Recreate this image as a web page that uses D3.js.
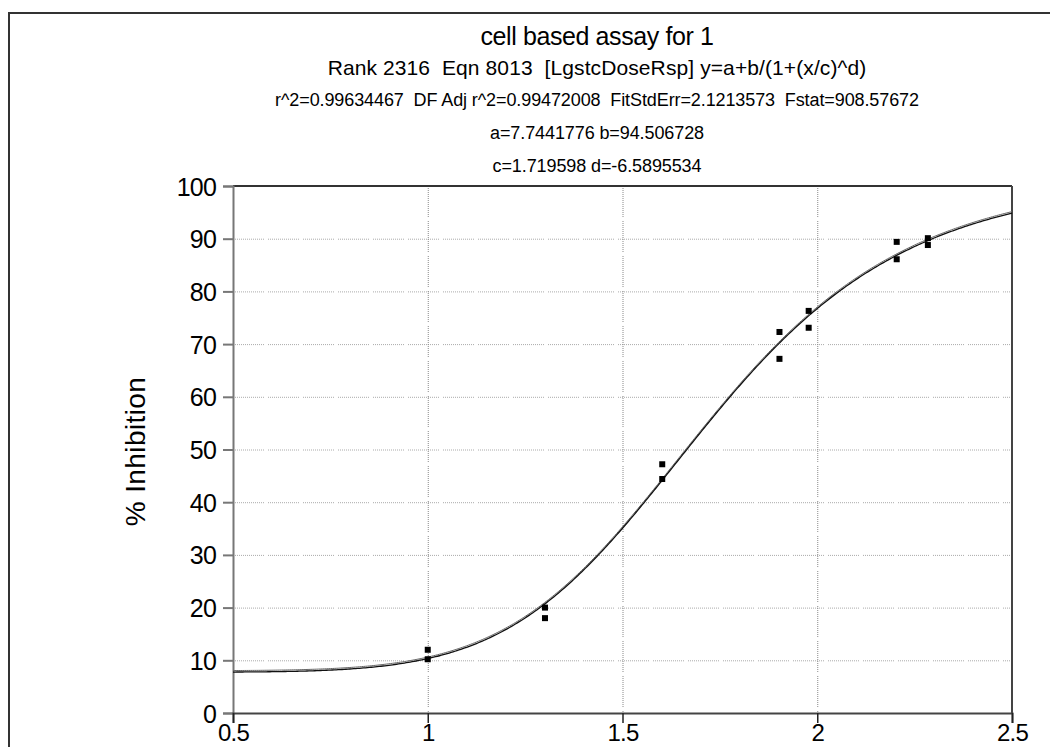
<!DOCTYPE html>
<html>
<head>
<meta charset="utf-8">
<script src="https://cdn.jsdelivr.net/npm/d3@7"></script>
<style>
  html, body { margin: 0; padding: 0; background: #fff; }
  svg { display: block; }
  text { font-family: "Liberation Sans", Arial, sans-serif; fill: #000; white-space: pre; }
</style>
</head>
<body>
<svg id="chart" width="1050" height="747"></svg>
<script>
// Header lines
const titleLines = [
  "cell based assay for 1",
  "Rank 2316  Eqn 8013  [LgstcDoseRsp] y=a+b/(1+(x/c)^d)",
  "r^2=0.99634467  DF Adj r^2=0.99472008  FitStdErr=2.1213573  Fstat=908.57672",
  "a=7.7441776 b=94.506728",
  "c=1.719598 d=-6.5895534"
];

// Fitted parameters of y = a + b / (1 + (x/c)^d)
const fitParams = { a: 7.7441776, b: 94.506728, c: 1.719598, d: -6.5895534 };

// Measured points
const doseX = [1.0, 1.0, 1.301, 1.301, 1.602, 1.602, 1.903, 1.903, 1.978, 1.978, 2.204, 2.204, 2.284, 2.284];
const inhibitionY = [12.0, 10.2, 20.0, 18.0, 47.2, 44.4, 72.3, 67.2, 76.3, 73.1, 89.4, 86.1, 90.1, 88.8];

// Axis ticks
const xTicks = [0.5, 1, 1.5, 2, 2.5];
const yTicks = [0, 10, 20, 30, 40, 50, 60, 70, 80, 90, 100];
const yLabel = "% Inhibition";

const svg = d3.select("#chart");
const plot = { left: 233, right: 1012, top: 186, bottom: 713 };

const x = d3.scaleLinear().domain([0.5, 2.5]).range([plot.left, plot.right]);
const y = d3.scaleLinear().domain([0, 100]).range([plot.bottom, plot.top]);

// Outer frame (top and left edges)
svg.append("path")
  .attr("d", "M9,747 V13 H1050")
  .attr("fill", "none")
  .attr("stroke", "#333")
  .attr("stroke-width", 2);

// Title block
const titleY = [45, 75, 106, 139, 172];
const titleSize = [25, 21, 18, 18, 18];
const titleSpacing = [-0.4, 0.1, -0.1, -0.1, -0.1];
svg.append("g").selectAll("text")
  .data(titleLines)
  .join("text")
  .attr("x", 597)
  .attr("y", (d, i) => titleY[i])
  .attr("text-anchor", "middle")
  .style("font-size", (d, i) => titleSize[i] + "px")
  .style("letter-spacing", (d, i) => titleSpacing[i] + "px")
  .text(d => d);

// Dotted grid pattern: fine dots broken into short runs
const dotRun = d3.range(16).flatMap(() => [1, 1]);
dotRun[dotRun.length - 1] = 4;
const gridDash = dotRun.join(",");

const grid = svg.append("g");
grid.selectAll("line.h")
  .data(yTicks.filter(v => v > 0 && v < 100))
  .join("line")
  .attr("class", "h")
  .attr("x1", plot.left).attr("x2", plot.right)
  .attr("y1", d => y(d) + 0.5).attr("y2", d => y(d) + 0.5)
  .attr("stroke", "#aaa")
  .attr("stroke-width", 1)
  .attr("stroke-dasharray", gridDash);
grid.selectAll("line.v")
  .data(xTicks.filter(v => v > 0.5 && v < 2.5))
  .join("line")
  .attr("class", "v")
  .attr("x1", d => x(d) + 0.5).attr("x2", d => x(d) + 0.5)
  .attr("y1", plot.top).attr("y2", plot.bottom)
  .attr("stroke", "#888")
  .attr("stroke-width", 1)
  .attr("stroke-dasharray", gridDash);

// Plot border
svg.append("line").attr("x1", plot.left).attr("x2", plot.right)
  .attr("y1", plot.top).attr("y2", plot.top).attr("stroke", "#333").attr("stroke-width", 2);
svg.append("line").attr("x1", plot.right).attr("x2", plot.right)
  .attr("y1", plot.top).attr("y2", plot.bottom).attr("stroke", "#444").attr("stroke-width", 2);

// Y axis
const yAxis = svg.append("g")
  .attr("transform", `translate(${plot.left},0)`)
  .call(d3.axisLeft(y).tickValues(yTicks).tickSize(10).tickPadding(7).tickFormat(d3.format("d")));
yAxis.select(".domain").attr("stroke", "#777").attr("stroke-width", 2);
yAxis.selectAll(".tick line").attr("stroke", "#777").attr("stroke-width", 2);
yAxis.selectAll(".tick text")
  .style("font-size", "25px")
  .style("letter-spacing", "-0.8px")
  .attr("font-family", null)
  .attr("dy", "0.36em");

// X axis
const xAxis = svg.append("g")
  .attr("transform", `translate(0,${plot.bottom})`)
  .call(d3.axisBottom(x).tickValues(xTicks).tickSize(10).tickPadding(0).tickFormat(d3.format("")));
xAxis.select(".domain").attr("stroke", "#444").attr("stroke-width", 2);
xAxis.selectAll(".tick line").attr("stroke", "#222").attr("stroke-width", 1.5);
xAxis.selectAll(".tick text")
  .style("font-size", "24px")
  .style("letter-spacing", "-0.8px")
  .attr("font-family", null)
  .attr("y", 28)
  .attr("dy", null);

// Y axis title
svg.append("text")
  .attr("transform", `translate(145,${(plot.top + plot.bottom) / 2 + 2}) rotate(-90)`)
  .attr("text-anchor", "middle")
  .style("font-size", "28px")
  .style("letter-spacing", "0.4px")
  .text(yLabel);

// Fitted curve
const fit = v => fitParams.a + fitParams.b / (1 + Math.pow(v / fitParams.c, fitParams.d));
const curveX = d3.range(0.5, 2.5001, 0.005);
const line = d3.line().x(v => x(v)).y(v => y(fit(v)));
svg.append("path")
  .datum(curveX)
  .attr("d", line)
  .attr("fill", "none")
  .attr("stroke", "#666")
  .attr("stroke-width", 1)
  .attr("transform", "translate(0,-1.5)");
svg.append("path")
  .datum(curveX)
  .attr("d", line)
  .attr("fill", "none")
  .attr("stroke", "#111")
  .attr("stroke-width", 1.3);

// Measured points
const pts = doseX.map((v, i) => ({ x: v, y: inhibitionY[i] }));
svg.append("g").selectAll("rect")
  .data(pts)
  .join("rect")
  .attr("x", d => x(d.x) - 3)
  .attr("y", d => y(d.y) - 3)
  .attr("width", 6)
  .attr("height", 6)
  .attr("fill", "#000");
</script>
</body>
</html>
